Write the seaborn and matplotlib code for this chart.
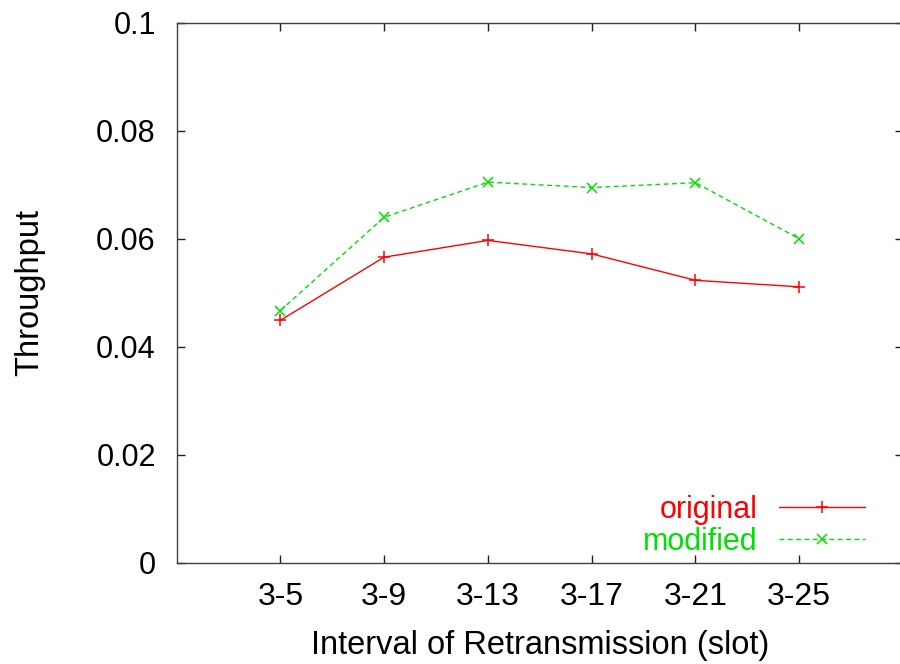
import matplotlib
matplotlib.use("Agg")
import matplotlib.pyplot as plt
import seaborn as sns
import pandas as pd

# Retransmission intervals (slots) and measured throughput
intervals = ["3-5", "3-9", "3-13", "3-17", "3-21", "3-25"]
original = [0.0449, 0.0566, 0.0597, 0.0572, 0.0523, 0.0511]
modified = [0.0467, 0.0640, 0.0705, 0.0695, 0.0704, 0.0600]
y_ticks = [0, 0.02, 0.04, 0.06, 0.08, 0.1]
y_tick_labels = ["0", "0.02", "0.04", "0.06", "0.08", "0.1"]

sns.set_theme(style="white")
plt.rcParams["font.family"] = ["Liberation Sans", "DejaVu Sans"]
plt.rcParams["text.color"] = "black"
plt.rcParams["axes.labelcolor"] = "black"
plt.rcParams["xtick.color"] = "black"
plt.rcParams["ytick.color"] = "black"

df = pd.DataFrame({
    "pos": list(range(len(intervals))) * 2,
    "throughput": original + modified,
    "series": ["original"] * len(intervals) + ["modified"] * len(intervals),
})

fig = plt.figure(figsize=(9, 6.64), dpi=100)
ax = fig.add_axes([176.7 / 900, 101.5 / 664, (903 - 176.7) / 900, (562.5 - 23) / 664])

red = "#ff0000"
green = "#00e000"
sns.lineplot(data=df[df.series == "original"], x="pos", y="throughput", ax=ax,
             color=red, lw=1.0, marker="+", markersize=9, mew=1.1,
             markeredgecolor=red, label="original")
sns.lineplot(data=df[df.series == "modified"], x="pos", y="throughput", ax=ax,
             color=green, lw=1.0, marker="x", markersize=7, mew=1.1,
             markeredgecolor=green, dashes=(3.5, 2.5), label="modified")

ax.set_xlim(-1, 6)
ax.set_ylim(0, 0.1)
ax.set_xticks(range(len(intervals)))
ax.set_xticklabels(intervals)
ax.set_yticks(y_ticks)
ax.set_yticklabels(y_tick_labels)

fs = 22
ax.tick_params(axis="both", which="both", direction="in", length=6, width=1,
               color="#202020", labelsize=fs, top=True, right=True,
               bottom=True, left=True)
ax.tick_params(axis="x", pad=14, labelsize=23)
ax.tick_params(axis="y", pad=15)
for s in ax.spines.values():
    s.set_color("#404040")
    s.set_linewidth(1.0)

ax.set_xlabel("Interval of Retransmission (slot)", fontsize=23.5, labelpad=13)
ax.set_ylabel("Throughput", fontsize=23.5, labelpad=37)

leg = ax.legend(loc="lower right", bbox_to_anchor=((865 - 176.7) / (903 - 176.7), 6 / 539.5),
                frameon=False, markerfirst=False, fontsize=fs, handlelength=2.8,
                handletextpad=0.7, labelspacing=0.05, borderpad=0, borderaxespad=0,
                labelcolor="linecolor")

fig.savefig("out.png", dpi=100)
